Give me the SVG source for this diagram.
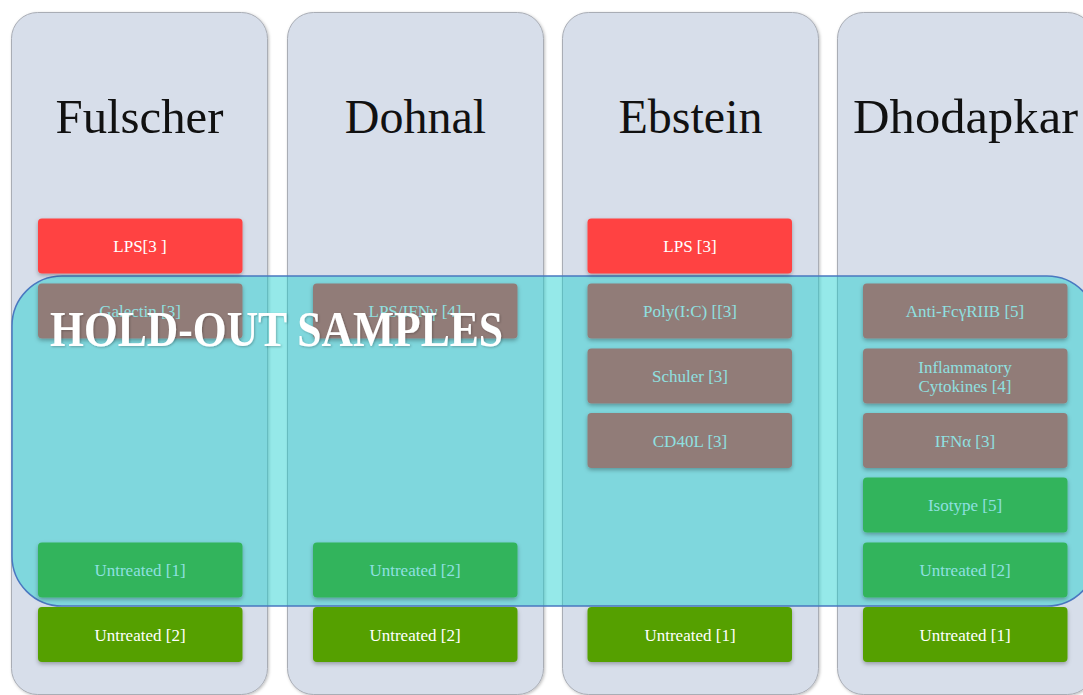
<svg xmlns="http://www.w3.org/2000/svg" width="1083" height="695" viewBox="0 0 1083 695">
  <defs>
    <filter id="colShadow" x="-10%" y="-10%" width="120%" height="120%">
      <feDropShadow dx="1" dy="1" stdDeviation="1.5" flood-color="#000" flood-opacity="0.25"/>
    </filter>
    <filter id="boxShadow" x="-10%" y="-20%" width="120%" height="150%">
      <feDropShadow dx="0" dy="2" stdDeviation="2" flood-color="#000" flood-opacity="0.3"/>
    </filter>
    <filter id="textShadow" x="-5%" y="-20%" width="110%" height="150%">
      <feDropShadow dx="1" dy="1" stdDeviation="1" flood-color="#000" flood-opacity="0.25"/>
    </filter>
  </defs>
  <style>
    .col { fill: #d7deea; stroke: #a9adb5; stroke-width: 1; }
    .title { font-family: "Liberation Serif", "DejaVu Serif", serif; font-size: 48px; fill: #111; text-anchor: middle; }
    .box { filter: url(#boxShadow); }
    .red { fill: #ff4242; }
    .brown { fill: #917b78; }
    .green { fill: #32b45b; }
    .dkgreen { fill: #55a006; }
    .lbl { font-family: "Liberation Serif", "DejaVu Serif", serif; font-size: 17px; text-anchor: middle; }
    .on { fill: #ffffff; }
    .in { fill: #8fe0e0; }
    .holdout { fill: rgb(20,207,207); fill-opacity: 0.45; stroke: #4a78c0; stroke-width: 1.5; }
    .big { font-family: "Liberation Serif", "DejaVu Serif", serif; font-weight: bold; font-size: 50px; fill: #ffffff; }
  </style>

  <!-- study columns -->
  <g id="col-fulscher">
    <rect class="col" x="11.5" y="12.5" width="256" height="682" rx="26" filter="url(#colShadow)"/>
    <text class="title" x="139.5" y="133" textLength="168" lengthAdjust="spacingAndGlyphs">Fulscher</text>
  </g>
  <g id="col-dohnal">
    <rect class="col" x="287.5" y="12.5" width="256" height="682" rx="26" filter="url(#colShadow)"/>
    <text class="title" x="415.5" y="133">Dohnal</text>
  </g>
  <g id="col-ebstein">
    <rect class="col" x="562.5" y="12.5" width="256" height="682" rx="26" filter="url(#colShadow)"/>
    <text class="title" x="690.5" y="133">Ebstein</text>
  </g>
  <g id="col-dhodapkar">
    <rect class="col" x="837.5" y="12.5" width="256" height="682" rx="26" filter="url(#colShadow)"/>
    <text class="title" x="965.5" y="133" textLength="225" lengthAdjust="spacingAndGlyphs">Dhodapkar</text>
  </g>

  <!-- hold-out region -->
  <g id="holdout-region">
    <rect class="holdout" x="12" y="276" width="1085" height="330" rx="50"/>
  </g>

  <!-- Fulscher samples -->
  <g id="f-lps">
    <rect class="box red" x="38" y="218.5" width="204.5" height="55" rx="4"/>
    <text class="lbl on" x="140" y="252">LPS[3 ]</text>
  </g>
  <g id="f-galectin">
    <rect class="box brown" x="38" y="283.5" width="204.5" height="55" rx="4"/>
    <text class="lbl in" x="140" y="317">Galectin [3]</text>
  </g>
  <g id="f-untreated-1">
    <rect class="box green" x="38" y="542.5" width="204.5" height="55" rx="4"/>
    <text class="lbl in" x="140" y="576">Untreated [1]</text>
  </g>
  <g id="f-untreated-2">
    <rect class="box dkgreen" x="38" y="607" width="204.5" height="55" rx="4"/>
    <text class="lbl on" x="140" y="641">Untreated [2]</text>
  </g>

  <!-- Dohnal samples -->
  <g id="d-lps-ifng">
    <rect class="box brown" x="313" y="283.5" width="204.5" height="55" rx="4"/>
    <text class="lbl in" x="415" y="317">LPS/IFNγ [4]</text>
  </g>
  <g id="d-untreated-1">
    <rect class="box green" x="313" y="542.5" width="204.5" height="55" rx="4"/>
    <text class="lbl in" x="415" y="576">Untreated [2]</text>
  </g>
  <g id="d-untreated-2">
    <rect class="box dkgreen" x="313" y="607" width="204.5" height="55" rx="4"/>
    <text class="lbl on" x="415" y="641">Untreated [2]</text>
  </g>

  <!-- Ebstein samples -->
  <g id="e-lps">
    <rect class="box red" x="587.5" y="218.5" width="204.5" height="55" rx="4"/>
    <text class="lbl on" x="690" y="252">LPS [3]</text>
  </g>
  <g id="e-polyic">
    <rect class="box brown" x="587.5" y="283.5" width="204.5" height="55" rx="4"/>
    <text class="lbl in" x="690" y="317">Poly(I:C) [[3]</text>
  </g>
  <g id="e-schuler">
    <rect class="box brown" x="587.5" y="348.5" width="204.5" height="55" rx="4"/>
    <text class="lbl in" x="690" y="382">Schuler [3]</text>
  </g>
  <g id="e-cd40l">
    <rect class="box brown" x="587.5" y="413" width="204.5" height="55" rx="4"/>
    <text class="lbl in" x="690" y="447">CD40L [3]</text>
  </g>
  <g id="e-untreated">
    <rect class="box dkgreen" x="587.5" y="607" width="204.5" height="55" rx="4"/>
    <text class="lbl on" x="690" y="641">Untreated [1]</text>
  </g>

  <!-- Dhodapkar samples -->
  <g id="dh-antifc">
    <rect class="box brown" x="863" y="283.5" width="204.5" height="55" rx="4"/>
    <text class="lbl in" x="965" y="317">Anti-FcγRIIB [5]</text>
  </g>
  <g id="dh-cytokines">
    <rect class="box brown" x="863" y="348.5" width="204.5" height="55" rx="4"/>
    <text class="lbl in" x="965" y="373">Inflammatory</text>
    <text class="lbl in" x="965" y="392">Cytokines [4]</text>
  </g>
  <g id="dh-ifna">
    <rect class="box brown" x="863" y="413" width="204.5" height="55" rx="4"/>
    <text class="lbl in" x="965" y="447">IFNα [3]</text>
  </g>
  <g id="dh-isotype">
    <rect class="box green" x="863" y="477.5" width="204.5" height="55" rx="4"/>
    <text class="lbl in" x="965" y="511">Isotype [5]</text>
  </g>
  <g id="dh-untreated-1">
    <rect class="box green" x="863" y="542.5" width="204.5" height="55" rx="4"/>
    <text class="lbl in" x="965" y="576">Untreated [2]</text>
  </g>
  <g id="dh-untreated-2">
    <rect class="box dkgreen" x="863" y="607" width="204.5" height="55" rx="4"/>
    <text class="lbl on" x="965" y="641">Untreated [1]</text>
  </g>

  <!-- hold-out caption -->
  <text class="big" x="50" y="346" textLength="453" lengthAdjust="spacingAndGlyphs" filter="url(#textShadow)">HOLD-OUT SAMPLES</text>

  <!-- no connectors in this layout -->
  <g id="connectors"/>
</svg>
